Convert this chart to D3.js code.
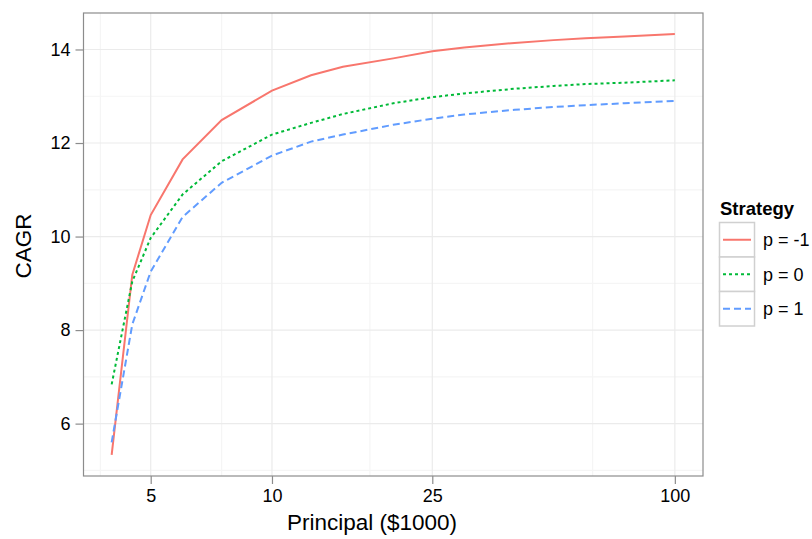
<!DOCTYPE html>
<html>
<head>
<meta charset="utf-8">
<script src="https://cdn.jsdelivr.net/npm/d3@7"></script>
<style>
  body { margin: 0; background: #fff; }
  svg text { font-family: "Liberation Sans", Arial, sans-serif; }
</style>
</head>
<body>
<svg id="chart" width="812" height="539"></svg>
<script>
// Principal amounts ($1000) and CAGR for each strategy
const principal = [4, 4.5, 5, 6, 7.5, 10, 12.5, 15, 20, 25, 30, 40, 50, 60, 75, 100];
const cagrPm1 = [5.33, 9.18, 10.46, 11.65, 12.49, 13.12, 13.45, 13.63, 13.81, 13.96, 14.04, 14.14, 14.20, 14.24, 14.28, 14.33];
const cagrP0  = [6.84, 9.04, 9.97, 10.90, 11.61, 12.18, 12.43, 12.62, 12.85, 12.98, 13.06, 13.16, 13.22, 13.26, 13.29, 13.34];
const cagrP1  = [5.60, 8.12, 9.25, 10.42, 11.15, 11.73, 12.03, 12.18, 12.39, 12.52, 12.61, 12.71, 12.77, 12.81, 12.85, 12.90];

const strategyLabels = ["p = -1", "p = 0", "p = 1"];
const strategyColors = ["#F8766D", "#00BA38", "#619CFF"];
const strategyDash = [null, "3,3", "7,4"];

const xTicks = [5, 10, 25, 100];
const xMinor = [3.75, 7.5, 17.5, 62.5];
const yTicks = [6, 8, 10, 12, 14];
const yMinor = [5, 7, 9, 11, 13];

const series = [cagrPm1, cagrP0, cagrP1];

const svg = d3.select("#chart");
const panel = { left: 83.5, right: 703, top: 13, bottom: 476 };

// log-scaled x with 5% padding on each side (in log space)
const lx0 = Math.log10(d3.min(principal)), lx1 = Math.log10(d3.max(principal));
const padX = (lx1 - lx0) * 0.05;
const x = d3.scaleLog()
  .domain([Math.pow(10, lx0 - padX), Math.pow(10, lx1 + padX)])
  .range([panel.left, panel.right]);

const allY = series.flat();
const y0 = d3.min(allY), y1 = d3.max(allY);
const padY = (y1 - y0) * 0.05;
const y = d3.scaleLinear()
  .domain([y0 - padY, y1 + padY])
  .range([panel.bottom, panel.top]);

// panel background + grid
const g = svg.append("g");
g.append("rect")
  .attr("x", panel.left).attr("y", panel.top)
  .attr("width", panel.right - panel.left).attr("height", panel.bottom - panel.top)
  .attr("fill", "#fff");

g.selectAll(".xminor").data(xMinor).join("line")
  .attr("x1", d => x(d)).attr("x2", d => x(d))
  .attr("y1", panel.top).attr("y2", panel.bottom)
  .attr("stroke", "#F5F5F5").attr("stroke-width", 1.2);
g.selectAll(".yminor").data(yMinor).join("line")
  .attr("y1", d => y(d)).attr("y2", d => y(d))
  .attr("x1", panel.left).attr("x2", panel.right)
  .attr("stroke", "#F5F5F5").attr("stroke-width", 1.2);
g.selectAll(".xmajor").data(xTicks).join("line")
  .attr("x1", d => x(d)).attr("x2", d => x(d))
  .attr("y1", panel.top).attr("y2", panel.bottom)
  .attr("stroke", "#EBEBEB").attr("stroke-width", 1.2);
g.selectAll(".ymajor").data(yTicks).join("line")
  .attr("y1", d => y(d)).attr("y2", d => y(d))
  .attr("x1", panel.left).attr("x2", panel.right)
  .attr("stroke", "#EBEBEB").attr("stroke-width", 1.2);

// lines
const line = d3.line()
  .x((d, i) => x(principal[i]))
  .y(d => y(d));

series.forEach((vals, k) => {
  svg.append("path")
    .datum(vals)
    .attr("d", line)
    .attr("fill", "none")
    .attr("stroke", strategyColors[k])
    .attr("stroke-width", 2)
    .attr("stroke-dasharray", strategyDash[k]);
});

// panel border
svg.append("rect")
  .attr("x", panel.left).attr("y", panel.top)
  .attr("width", panel.right - panel.left).attr("height", panel.bottom - panel.top)
  .attr("fill", "none").attr("stroke", "#8C8C8C").attr("stroke-width", 1.2);

// axes
const xAxis = d3.axisBottom(x).tickValues(xTicks).tickFormat(d3.format("d"))
  .tickSizeInner(8).tickSizeOuter(0).tickPadding(5);
const yAxis = d3.axisLeft(y).tickValues(yTicks).tickFormat(d3.format("d"))
  .tickSizeInner(8).tickSizeOuter(0).tickPadding(5);

const gx = svg.append("g").attr("transform", `translate(0,${panel.bottom})`).call(xAxis);
const gy = svg.append("g").attr("transform", `translate(${panel.left},0)`).call(yAxis);
[gx, gy].forEach(a => {
  a.select(".domain").remove();
  a.selectAll(".tick line").attr("stroke", "#8C8C8C").attr("stroke-width", 1.2);
  a.selectAll(".tick text").attr("fill", "#000").style("font-size", "18px");
});

// axis titles
svg.append("text")
  .attr("x", 372).attr("y", 530)
  .attr("text-anchor", "middle")
  .style("font-size", "22.5px")
  .text("Principal ($1000)");
svg.append("text")
  .attr("transform", "translate(31,246) rotate(-90)")
  .attr("text-anchor", "middle")
  .style("font-size", "22.5px")
  .text("CAGR");

// legend
const lg = svg.append("g");
lg.append("text")
  .attr("x", 720).attr("y", 215)
  .style("font-size", "18.5px").style("font-weight", "bold")
  .text("Strategy");
const keyH = 34.5, keyTop = 222.5;
strategyLabels.forEach((lab, k) => {
  const ky = keyTop + k * keyH;
  lg.append("rect")
    .attr("x", 719.5).attr("y", ky)
    .attr("width", 35).attr("height", keyH)
    .attr("fill", "#fff").attr("stroke", "#D0D0D0").attr("stroke-width", 1.5);
  lg.append("line")
    .attr("x1", 723).attr("x2", 751)
    .attr("y1", ky + keyH / 2).attr("y2", ky + keyH / 2)
    .attr("stroke", strategyColors[k]).attr("stroke-width", 2)
    .attr("stroke-dasharray", strategyDash[k]);
  lg.append("text")
    .attr("x", 763).attr("y", ky + keyH / 2 + 6.5)
    .style("font-size", "18px")
    .text(lab);
});
</script>
</body>
</html>
